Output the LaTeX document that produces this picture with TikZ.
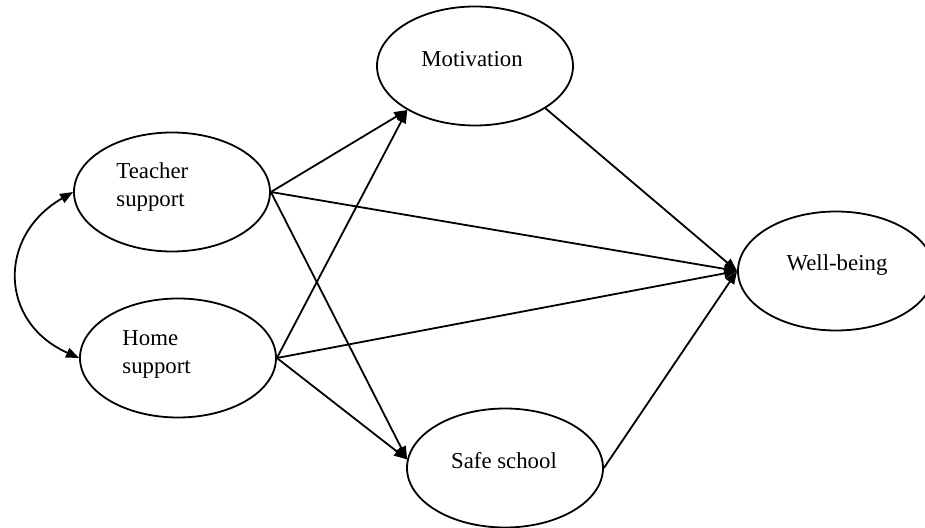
\documentclass[tikz,border=0pt]{standalone}
\usepackage{fontspec}
\setmainfont{Liberation Serif}
\usetikzlibrary{arrows.meta,shapes.geometric}

\begin{document}
\begin{tikzpicture}[
        x=0.5pt,y=-0.5pt,
        every node/.style={font=\fontsize{11.4}{14}\selectfont},
        varNode/.style={ellipse,draw=black,line width=0.9pt,minimum width=98pt,minimum height=59.5pt,inner sep=0pt},
        varText/.style={inner sep=0pt,align=left},
        pathEdge/.style={draw=black,line width=0.9pt,-{Triangle[length=6.5pt,width=5pt]}},
        corrEdge/.style={draw=black,line width=0.9pt,{Triangle[length=6.5pt,width=5pt]}-{Triangle[length=6.5pt,width=5pt]}}]
        \useasboundingbox (0,0) rectangle (925,528);
        \node[varNode] (teacher) at (172,192) {};
        \node[varNode] (home) at (178,358) {};
        \node[varNode] (motiv) at (475,66) {};
        \node[varNode] (safe) at (505,468) {};
        \node[varNode] (wellb) at (836,271) {};
        \node[varText,anchor=west] (teacherlbl) at (116,187) {Teacher\\support};
        \node[varText,anchor=west] (homelbl) at (122,354) {Home\\support};
        \node[varText] (motivlbl) at (472,59) {Motivation};
        \node[varText] (safelbl) at (504,461) {Safe school};
        \node[varText] (wellblbl) at (837,265) {Well-being};
        \draw[pathEdge] (teacher.east)--(motiv.213);
        \draw[pathEdge] (teacher.east)--(wellb.west);
        \draw[pathEdge] (teacher.east)--(safe.175);
        \draw[pathEdge] (home.east)--(motiv.213);
        \draw[pathEdge] (home.east)--(wellb.west);
        \draw[pathEdge] (home.east)--(safe.175);
        \draw[pathEdge] (motiv.329)--(wellb.west);
        \draw[pathEdge] (safe.east)--(wellb.west);
        \draw[corrEdge] (teacher.west) to[out=210,in=156,looseness=1.35] (home.west);
      \end{tikzpicture}
\end{document}
